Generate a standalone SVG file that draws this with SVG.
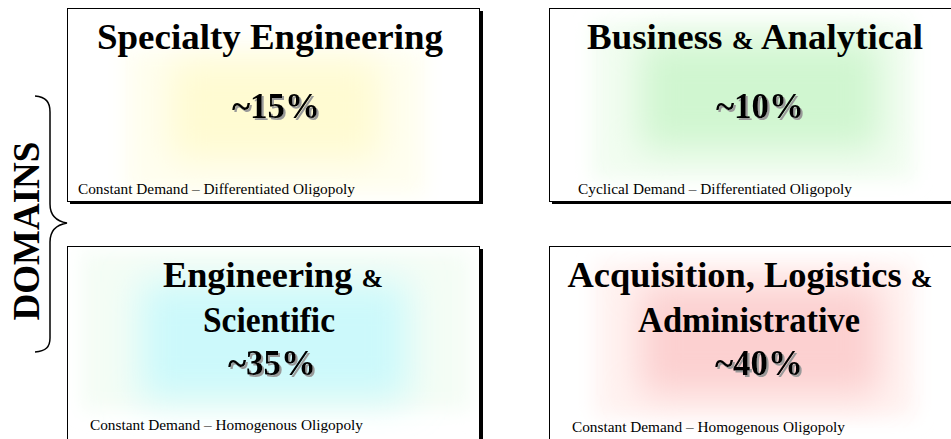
<svg xmlns="http://www.w3.org/2000/svg" width="951" height="439" viewBox="0 0 951 439">
  <style>
    .frame { fill: #ffffff; stroke: #000000; stroke-width: 1; }
    .shadow { fill: #000000; }
    .title { font-family: "Liberation Serif", "Times New Roman", serif; font-weight: bold; font-size: 35px; fill: #000000; text-anchor: middle; }
    .amp { font-size: 25px; }
    .pct { font-family: "Liberation Serif", "Times New Roman", serif; font-weight: bold; font-size: 35px; fill: #000000; text-anchor: middle; filter: url(#drop); }
    .note { font-family: "Liberation Serif", "Times New Roman", serif; font-size: 14px; fill: #000000; }
    .side { font-family: "Liberation Serif", "Times New Roman", serif; font-weight: bold; font-size: 37px; fill: #000000; text-anchor: middle; }
    .brace { fill: none; stroke: #000000; stroke-width: 1.5; }
  </style>
  <defs>
    <filter id="drop" x="-10%" y="-20%" width="130%" height="150%">
      <feDropShadow dx="2" dy="2" stdDeviation="0.3" flood-color="#999999" flood-opacity="1"/>
    </filter>
    <filter id="soft" x="-30%" y="-30%" width="160%" height="160%">
      <feGaussianBlur stdDeviation="18"/>
    </filter>
    <filter id="softer" x="-30%" y="-30%" width="160%" height="160%">
      <feGaussianBlur stdDeviation="10"/>
    </filter>
    <clipPath id="clip-a"><rect x="68" y="9" width="411" height="192"/></clipPath>
    <clipPath id="clip-b"><rect x="550" y="9" width="420" height="192"/></clipPath>
    <clipPath id="clip-c"><rect x="68" y="247" width="411" height="200"/></clipPath>
    <clipPath id="clip-d"><rect x="550" y="247" width="420" height="200"/></clipPath>
  </defs>

  <rect x="0" y="0" width="951" height="439" fill="#ffffff"/>

  <!-- side label with brace -->
  <g id="domains">
    <text class="side" transform="translate(39,231) rotate(-90)">DOMAINS</text>
    <path class="brace" d="M35,96 C46,97 50,102 50,112 L50,204 C50,214 55,221 67,223 C55,225 50,232 50,242 L50,338 C50,347 46,351 35,352"/>
  </g>

  <!-- top-left domain -->
  <g id="specialty-engineering">
    <rect class="shadow" x="70" y="11" width="413" height="193"/>
    <rect class="frame" x="67.5" y="8.5" width="412" height="193"/>
    <g clip-path="url(#clip-a)">
      <rect x="125" y="50" width="300" height="145" fill="#fffef0" filter="url(#softer)"/>
      <rect x="170" y="60" width="210" height="100" fill="#fffbd2" filter="url(#soft)"/>
    </g>
    <text class="title" x="270" y="49" textLength="346" lengthAdjust="spacingAndGlyphs">Specialty Engineering</text>
    <text class="pct" x="276" y="118">~15%</text>
    <text class="note" x="78" y="194" textLength="277" lengthAdjust="spacingAndGlyphs">Constant Demand – Differentiated Oligopoly</text>
  </g>

  <!-- top-right domain -->
  <g id="business-analytical">
    <rect class="shadow" x="552" y="11" width="420" height="193"/>
    <rect class="frame" x="549.5" y="8.5" width="420" height="193"/>
    <g clip-path="url(#clip-b)">
      <rect x="592" y="22" width="322" height="158" fill="#f2fdf1" filter="url(#softer)"/>
      <rect x="640" y="40" width="240" height="110" fill="#d0f6d0" filter="url(#soft)"/>
    </g>
    <text class="title" x="755" y="49" textLength="336" lengthAdjust="spacingAndGlyphs">Business <tspan class="amp">&amp;</tspan> Analytical</text>
    <text class="pct" x="760" y="118">~10%</text>
    <text class="note" x="578" y="194" textLength="274" lengthAdjust="spacingAndGlyphs">Cyclical Demand – Differentiated Oligopoly</text>
  </g>

  <!-- bottom-left domain -->
  <g id="engineering-scientific">
    <rect class="shadow" x="70" y="249" width="413" height="200"/>
    <rect class="frame" x="67.5" y="246.5" width="412" height="200"/>
    <g clip-path="url(#clip-c)">
      <rect x="82" y="252" width="388" height="158" fill="#f4fdf5" filter="url(#softer)"/>
      <rect x="140" y="282" width="268" height="118" fill="#ccf9fb" filter="url(#soft)"/>
    </g>
    <text class="title" x="273" y="287" textLength="220" lengthAdjust="spacingAndGlyphs">Engineering <tspan class="amp">&amp;</tspan></text>
    <text class="title" x="269" y="332" textLength="132" lengthAdjust="spacingAndGlyphs">Scientific</text>
    <text class="pct" x="272" y="375">~35%</text>
    <text class="note" x="90" y="430" textLength="273" lengthAdjust="spacingAndGlyphs">Constant Demand – Homogenous Oligopoly</text>
  </g>

  <!-- bottom-right domain -->
  <g id="acquisition-logistics-administrative">
    <rect class="shadow" x="552" y="249" width="420" height="200"/>
    <rect class="frame" x="549.5" y="246.5" width="420" height="200"/>
    <g clip-path="url(#clip-d)">
      <rect x="595" y="262" width="320" height="155" fill="#fff3f1" filter="url(#softer)"/>
      <rect x="640" y="285" width="240" height="110" fill="#fcd0d0" filter="url(#soft)"/>
    </g>
    <text class="title" x="750" y="287" textLength="365" lengthAdjust="spacingAndGlyphs">Acquisition, Logistics <tspan class="amp">&amp;</tspan></text>
    <text class="title" x="749" y="332" textLength="222" lengthAdjust="spacingAndGlyphs">Administrative</text>
    <text class="pct" x="759" y="375">~40%</text>
    <text class="note" x="572" y="432" textLength="273" lengthAdjust="spacingAndGlyphs">Constant Demand – Homogenous Oligopoly</text>
  </g>
</svg>
